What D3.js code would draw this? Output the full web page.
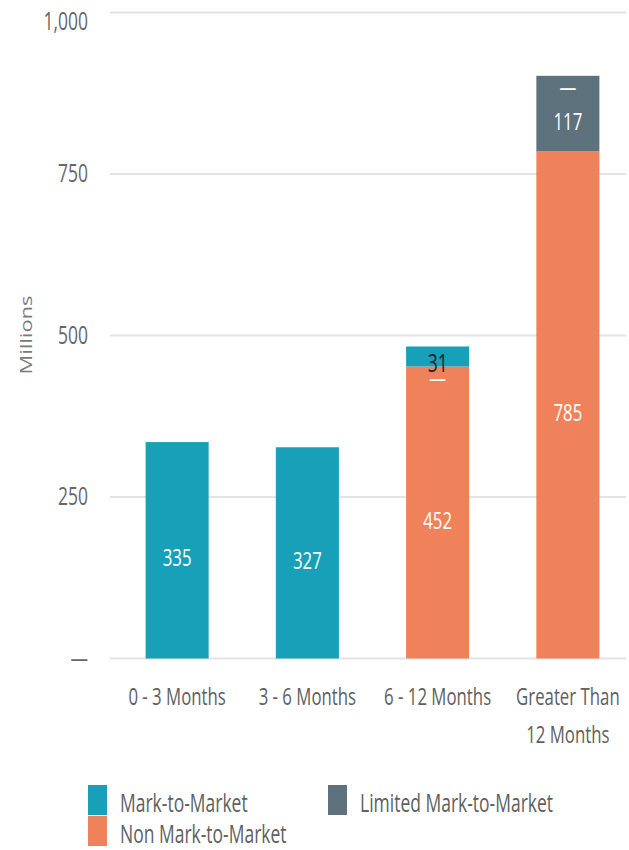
<!DOCTYPE html>
<html>
<head>
<script src="https://d3js.org/d3.v7.min.js"></script>
<style>
  body { margin: 0; background: #fff; }
  text { font-family: "Open Sans", sans-serif; }
</style>
</head>
<body>
<div id="chart"></div>
<script>
// Data
var categoryLines = [["0 - 3 Months"], ["3 - 6 Months"], ["6 - 12 Months"], ["Greater Than", "12 Months"]]
var nonMtm     = [null, null, 452, 785]
var limitedMtm = [null, null, 0, 117]
var mtm        = [335, 327, 31, 0]
var seriesNames  = ["Non Mark-to-Market", "Limited Mark-to-Market", "Mark-to-Market"]
var seriesValues = [nonMtm, limitedMtm, mtm]
var seriesColors = ["#f0825b", "#5e727e", "#18a0b8"]
var yTicks = [0, 250, 500, 750, 1000]
var yTickLabels = ["\u2014", "250", "500", "750", "1,000"]

var width = 629, height = 850
var SX = 0.7   // the picture is horizontally squeezed, so the text is too

var svg = d3.select("#chart").append("svg")
    .attr("width", width)
    .attr("height", height)

var y = d3.scaleLinear().domain([0, 1000]).range([658.5, 12.5])
var x = d3.scaleBand()
    .domain(d3.range(categoryLines.length))
    .range([112, 633])
    .paddingInner(0.516)
    .paddingOuter(0.258)

function txt(g, px, py, s, size, anchor, fill, rot) {
    return g.append("text")
        .attr("transform", "translate(" + px + "," + py + ") scale(" + SX + ",1)" + (rot ? " rotate(" + rot + ")" : ""))
        .attr("text-anchor", anchor)
        .attr("font-size", size)
        .attr("fill", fill)
        .text(s)
}

// gridlines + y labels
var grid = svg.append("g")
yTicks.forEach(function (t, i) {
    grid.append("line")
        .attr("x1", 110).attr("x2", 626)
        .attr("y1", y(t)).attr("y2", y(t))
        .attr("stroke", "#e3e3e3")
        .attr("stroke-width", 2)
    // top label sits a little lower so it is not clipped
    txt(grid, 88, Math.max(y(t) + 8, 30), yTickLabels[i], 25, "end", "#666")
})

// y title
txt(svg, 32, 335, "Millions", 22, "middle", "#7a7a7a", -90)

// stacked bars
var bars = svg.append("g")
var labels = svg.append("g")
categoryLines.forEach(function (c, ci) {
    var base = 0
    seriesValues.forEach(function (vals, si) {
        var v = vals[ci]
        if (v === null) return
        var y0 = base, y1 = base + v
        base = y1
        if (v > 0) {
            bars.append("rect")
                .attr("x", x(ci))
                .attr("width", x.bandwidth())
                .attr("y", y(y1))
                .attr("height", y(y0) - y(y1))
                .attr("fill", seriesColors[si])
        }
        var h = y(y0) - y(y1)
        var mid = (y(y0) + y(y1)) / 2
        var small = v > 0 && h < 30
        txt(labels, x(ci) + x.bandwidth() / 2, mid + (v === 0 ? 20 : 16),
            v === 0 ? "\u2014" : String(v),
            small ? 25 : 24, "middle", small ? "#1b1f2e" : "#ffffff")
    })
})

// category labels
var cats = svg.append("g")
categoryLines.forEach(function (lines, ci) {
    lines.forEach(function (l, li) {
        txt(cats, x(ci) + x.bandwidth() / 2, 705 + li * 38, l, 24, "middle", "#606060")
    })
})

// legend
var legend = svg.append("g")
var legendItems = [
    {name: seriesNames[2], color: seriesColors[2], lx: 88, ly: 785},
    {name: seriesNames[0], color: seriesColors[0], lx: 88, ly: 816},
    {name: seriesNames[1], color: seriesColors[1], lx: 328, ly: 785}
]
legendItems.forEach(function (d) {
    legend.append("rect")
        .attr("x", d.lx).attr("y", d.ly)
        .attr("width", 19).attr("height", 30)
        .attr("fill", d.color)
    txt(legend, d.lx + 32, d.ly + 27, d.name, 25, "start", "#606060")
})
</script>
</body>
</html>
